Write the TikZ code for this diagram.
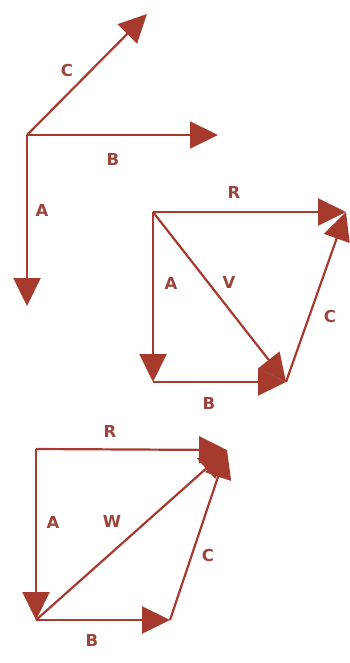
\documentclass[tikz,border=0pt]{standalone}
\usepackage{fontspec}
\setmainfont{DejaVu Sans}
\usetikzlibrary{arrows.meta}
\definecolor{vred}{RGB}{165,58,45}
\definecolor{labred}{RGB}{155,70,60}
\begin{document}
\begin{tikzpicture}[x=1pt,y=-1pt,
  vec/.style={draw=vred,line width=2.2pt,-{Triangle[length=28pt,width=27pt]},color=vred},
  lbl/.style={text=labred,font=\fontsize{16.5}{16.5}\selectfont\bfseries,inner sep=0pt}]
\useasboundingbox (0,0) rectangle (350,663);
% top group
\coordinate (O) at (27,135);
\coordinate (Ce) at (147,14);
\coordinate (Be) at (218,135);
\coordinate (Ae) at (27,306);
\draw[vec] (O) -- (Ce);
\draw[vec] (O) -- (Be);
\draw[vec] (O) -- (Ae);
\node[lbl] (lC1) at (67,70) {C};
\node[lbl] (lB1) at (113,159) {B};
\node[lbl] (lA1) at (42,210) {A};
% middle group
\coordinate (P) at (153,212);
\coordinate (Pc) at (153,382);
\coordinate (Pb) at (286,382);
\coordinate (Pr) at (346,212);
\draw[vec] (P) -- (Pr);
\draw[vec] (P) -- (Pc);
\draw[vec] (Pc) -- (Pb);
\draw[vec] (P) -- (Pb);
\draw[vec] (Pb) -- (Pr);
\node[lbl] (lR2) at (234,192) {R};
\node[lbl] (lA2) at (171,283) {A};
\node[lbl] (lV2) at (229,282) {V};
\node[lbl] (lC2) at (330,316) {C};
\node[lbl] (lB2) at (209,403) {B};
% bottom group
\coordinate (Q) at (36,449);
\coordinate (S) at (36,620);
\coordinate (U) at (170,620);
\coordinate (T) at (227,450);
\draw[vec] (Q) -- (T);
\draw[vec] (Q) -- (S);
\draw[vec] (S) -- (U);
\draw[vec] (S) -- (T);
\draw[vec] (U) -- (T);
\node[lbl] (lR3) at (110,431) {R};
\node[lbl] (lA3) at (53,522) {A};
\node[lbl] (lW3) at (112,521) {W};
\node[lbl] (lC3) at (208,555) {C};
\node[lbl] (lB3) at (92,640) {B};
\end{tikzpicture}
\end{document}
